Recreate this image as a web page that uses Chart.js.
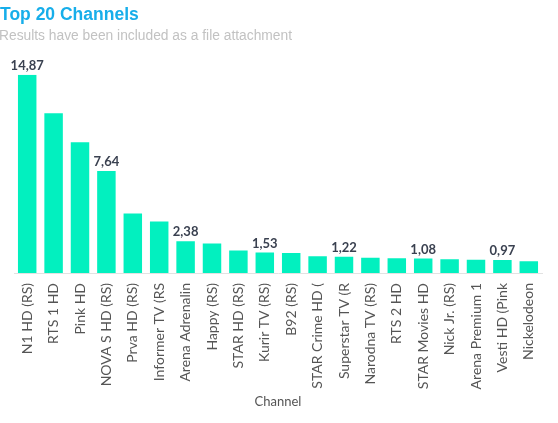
<!DOCTYPE html>
<html>
<head>
<meta charset="utf-8">
<script src="https://cdn.jsdelivr.net/npm/chart.js@4/dist/chart.umd.min.js"></script>
<style>
html,body{margin:0;padding:0;background:#fff;}
#wrap{width:558px;height:423px;position:relative;}
</style>
</head>
<body>
<div id="wrap"><canvas id="c"></canvas></div>
<script>
const titleText = "Top 20 Channels";
const subtitleText = "Results have been included as a file attachment";
const axisTitle = "Channel";
const channels = ["N1 HD (RS)", "RTS 1 HD", "Pink HD", "NOVA S HD (RS)", "Prva HD (RS)", "Informer TV (RS", "Arena Adrenalin", "Happy (RS)", "STAR HD (RS)", "Kurir TV (RS)", "B92 (RS)", "STAR Crime HD (", "Superstar TV (R", "Narodna TV (RS)", "RTS 2 HD", "STAR Movies HD", "Nick Jr. (RS)", "Arena Premium 1", "Vesti HD (Pink", "Nickelodeon"];
const shares = [14.87, 11.97, 9.81, 7.64, 4.46, 3.86, 2.38, 2.21, 1.68, 1.53, 1.50, 1.25, 1.22, 1.15, 1.10, 1.08, 1.03, 1.00, 0.97, 0.88];
const labelEvery = 3;

const headerText = {
  id: 'headerText',
  afterDraw(chart) {
    const ctx = chart.ctx;
    ctx.save();
    ctx.textAlign = 'left';
    ctx.textBaseline = 'alphabetic';
    ctx.fillStyle = '#17aeea';
    ctx.font = 'bold 17.5px "Liberation Sans"';
    ctx.fillText(titleText, 0, 20);
    ctx.fillStyle = '#c2c2c2';
    ctx.font = '13.8px "Liberation Sans"';
    ctx.fillText(subtitleText, -1, 39.5);
    ctx.restore();
  }
};

const valueLabels = {
  id: 'valueLabels',
  afterDatasetsDraw(chart) {
    const ctx = chart.ctx;
    const meta = chart.getDatasetMeta(0);
    ctx.save();
    ctx.font = "bold 13px Lato";
    ctx.fillStyle = "#3a4150";
    ctx.textAlign = "center";
    ctx.textBaseline = "alphabetic";
    meta.data.forEach((bar, i) => {
      if (i % labelEvery !== 0) return;
      const v = shares[i].toFixed(2).replace('.', ',');
      ctx.fillText(v, bar.x, bar.y - 5);
    });
    ctx.restore();
  }
};

new Chart(document.getElementById('c'), {
  type: 'bar',
  data: {
    labels: channels,
    datasets: [{
      data: shares,
      backgroundColor: '#02f0bf',
      borderWidth: 0,
      barPercentage: 0.7,
      categoryPercentage: 1.0
    }]
  },
  options: {
    responsive: true,
    maintainAspectRatio: false,
    animation: false,
    layout: { padding: { left: 14, right: 16, top: 74.7, bottom: 13 } },
    plugins: {
      legend: { display: false },
      tooltip: { enabled: false },
      title: { display: false },
      subtitle: { display: false }
    },
    scales: {
      x: {
        afterFit(scale) { scale.height = 137; },
        grid: { display: false, drawTicks: false },
        border: { color: '#e2e2e2' },
        ticks: {
          minRotation: 90, maxRotation: 90, autoSkip: false,
          color: '#555', font: { family: 'Lato', size: 14 }, padding: 10
        },
        title: {
          display: true, text: axisTitle, color: '#555',
          font: { family: 'Lato', size: 13 }, padding: { top: 6, bottom: 0 }
        }
      },
      y: {
        display: false,
        min: 0, max: 14.87
      }
    }
  },
  plugins: [valueLabels, headerText]
});
</script>
</body>
</html>
